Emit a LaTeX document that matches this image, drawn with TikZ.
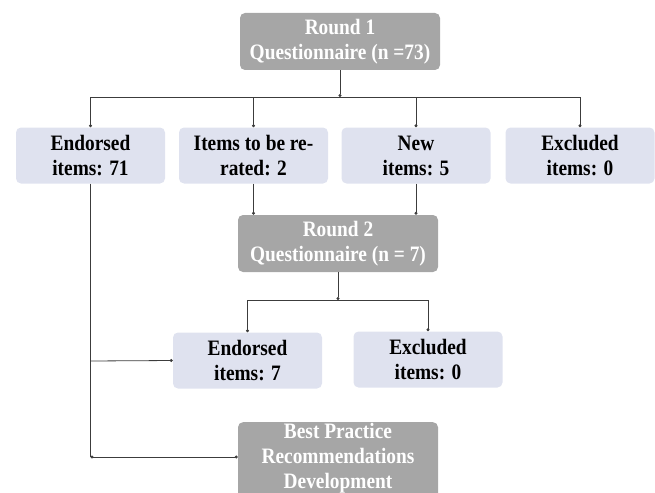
\documentclass[tikz,border=0pt]{standalone}
\usepackage{fontspec}
\setmainfont{Liberation Serif}[FakeStretch=0.88]
\usetikzlibrary{arrows.meta}
\definecolor{roundgray}{HTML}{A6A6A6}
\definecolor{itemblue}{HTML}{DFE2EF}
\definecolor{linegray}{HTML}{3C3C3C}

\begin{document}
\begin{tikzpicture}[x=1pt, y=-1pt,
	roundbox/.style={fill=roundgray, rounded corners=5pt, text=white, font=\fontsize{22}{25}\selectfont\bfseries, align=center, minimum width=200pt, minimum height=57pt, inner sep=2pt},
	itembox/.style={fill=itemblue, rounded corners=5pt, text=black, font=\fontsize{22}{25}\selectfont\bfseries, align=center, minimum width=149pt, minimum height=56pt, inner sep=2pt},
	link/.style={draw=linegray, line width=0.8pt},
	dot/.style={link, -{Circle[length=3pt]}},
	dots/.style={link, {Circle[length=3pt]}-{Circle[length=3pt]}}]

\clip (0,0) rectangle (655,492);
\useasboundingbox (0,0) rectangle (655,492);

			% round 1
			\node[roundbox] (r1) at (340,41.5) {Round 1\\Questionnaire (n =73)};
			
			\node[itembox] (e71) at (90.5,155.5) {Endorsed\\items: 71};
			\node[itembox] (rerate) at (253.5,155.5) {Items to be re-\\rated: 2};
			\node[itembox] (new) at (416,155.5) {New\\items: 5};
			\node[itembox] (ex1) at (580,155.5) {Excluded\\items: 0};
			
			% round 2
			\node[roundbox] (r2) at (338,243.5) {Round 2\\Questionnaire (n = 7)};
			
			\node[itembox] (e7) at (247.5,360.5) {Endorsed\\items: 7};
			\node[itembox] (ex2) at (428,359.5) {Excluded\\items: 0};
			
			\node[roundbox, anchor=north, minimum height=0pt, inner ysep=1pt, text depth=20pt] (bp) at (338,422) {Best Practice\\Recommendations\\Development};
			
			\coordinate (b1) at (340,97);
			\coordinate (b2) at (338,300);
			\coordinate (c1) at (90.5,361);
			\coordinate (c2) at (90.5,457);
			
			\draw[dot] (r1) -- (b1);
			\draw[dot] (b1) -| (e71);
			\draw[dot] (b1) -| (rerate);
			\draw[dot] (b1) -| (new);
			\draw[dot] (b1) -| (ex1);
			
			\draw[dot] (rerate.south) -- (rerate.south |- r2.north);
			\draw[dot] (new.south) -- (new.south |- r2.north);
			
			\draw[dot] (r2) -- (b2);
			\draw[dot] (b2) -| (e7);
			\draw[dot] (b2) -| (ex2);
			
			\draw[link] (e71.south) -- (c2);
			\draw[dot] (c1) -- (e7.west);
			\draw[dots] (c2) -- (c2 -| bp.west);

		\end{tikzpicture}
\end{document}
